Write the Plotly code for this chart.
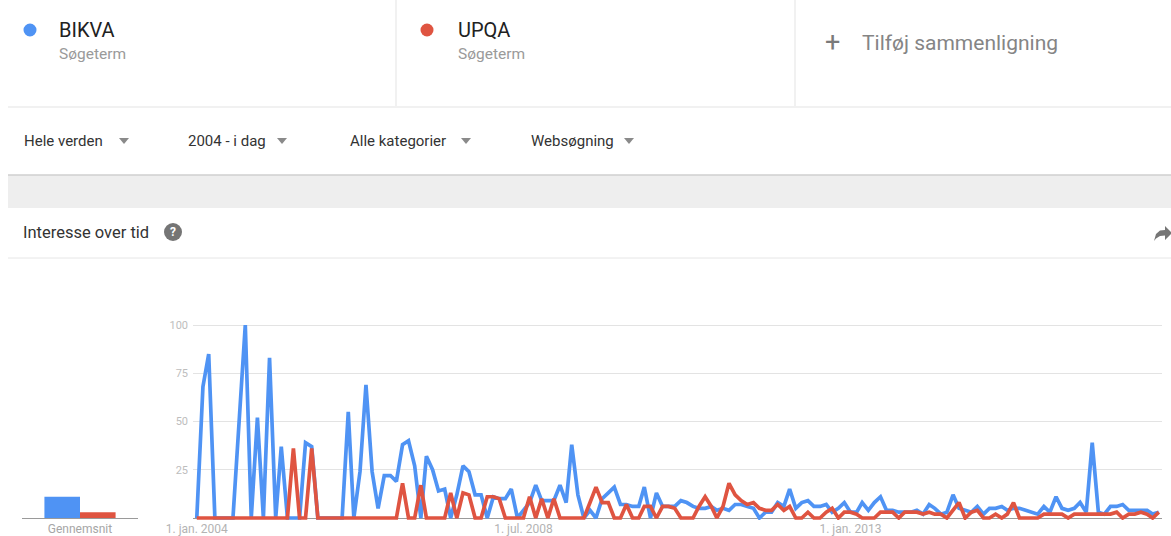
import pandas as pd
import plotly.graph_objects as go

W, H = 1171, 536

# ---------------- data ----------------
months = pd.date_range("2004-01-01", periods=160, freq="MS")

bikva = [0, 68, 85, 0, 0, 0, 0, 50, 100, 0,
         52, 0, 83, 0, 37, 0, 0, 0, 39, 37,
         0, 0, 0, 0, 0, 55, 0, 24, 69, 24,
         5, 22, 22, 19, 38, 40, 27, 0, 32, 25,
         14, 15, 0, 12, 27, 24, 12, 12, 0, 11,
         10, 10, 15, 0, 4, 8, 17, 9, 9, 9,
         17, 8, 38, 12, 0, 4, 0, 10, 13, 16,
         7, 7, 6, 6, 16, 0, 13, 6, 6, 6,
         9, 8, 6, 5, 5, 6, 4, 5, 4, 7,
         7, 6, 5, 0, 3, 3, 8, 6, 15, 5,
         8, 9, 6, 6, 7, 3, 5, 8, 3, 3,
         8, 4, 8, 11, 4, 4, 3, 3, 3, 4,
         2, 7, 5, 2, 3, 12, 5, 4, 3, 6,
         2, 5, 5, 6, 4, 5, 5, 4, 3, 2,
         6, 3, 11, 5, 4, 5, 8, 3, 39, 3,
         2, 6, 6, 7, 4, 4, 4, 4, 2, 3]

upqa = [0, 0, 0, 0, 0, 0, 0, 0, 0, 0,
        0, 0, 0, 0, 0, 0, 36, 0, 0, 36,
        0, 0, 0, 0, 0, 0, 0, 0, 0, 0,
        0, 0, 0, 0, 18, 0, 0, 17, 0, 0,
        0, 0, 13, 0, 13, 12, 0, 0, 11, 11,
        10, 0, 0, 0, 0, 11, 0, 10, 0, 10,
        0, 0, 0, 0, 0, 8, 16, 8, 8, 0,
        0, 7, 0, 0, 6, 6, 0, 6, 6, 5,
        0, 0, 0, 6, 11, 6, 0, 6, 18, 12,
        9, 7, 8, 5, 4, 4, 7, 4, 6, 0,
        0, 3, 0, 0, 3, 5, 0, 3, 3, 2,
        0, 0, 0, 3, 3, 3, 0, 3, 3, 3,
        2, 3, 2, 2, 0, 4, 8, 0, 3, 4,
        0, 0, 2, 0, 2, 8, 0, 0, 0, 0,
        2, 2, 2, 2, 0, 2, 2, 2, 2, 2,
        2, 2, 3, 0, 2, 2, 3, 2, 0, 3]

terms = ["BIKVA", "UPQA"]
averages = [11, 3]
avg_label = ["Gennemsnit"]
y_ticks = [25, 50, 75, 100]
x_tick_dates = ["2004-01-01", "2008-07-01", "2013-01-01"]
x_tick_text = ["1. jan. 2004", "1. jul. 2008", "1. jan. 2013"]
filters = ["Hele verden", "2004 - i dag", "Alle kategorier", "Websøgning"]

BLUE = "#4f93f4"
RED = "#df5441"
FONT = "Roboto"


def px(x):
    return x / W


def py(y):
    return 1 - y / H


fig = go.Figure()

fig.add_trace(go.Scatter(x=months, y=bikva, mode="lines", name=terms[0],
                         line=dict(color=BLUE, width=3.7), xaxis="x", yaxis="y"))
fig.add_trace(go.Scatter(x=months, y=upqa, mode="lines", name=terms[1],
                         line=dict(color=RED, width=3.7), xaxis="x", yaxis="y"))

fig.add_trace(go.Bar(x=[0], y=[averages[0]], width=[1], marker_color=BLUE,
                     marker_line_width=0, xaxis="x2", yaxis="y2", name=terms[0]))
fig.add_trace(go.Bar(x=[1], y=[averages[1]], width=[1], marker_color=RED,
                     marker_line_width=0, xaxis="x2", yaxis="y2", name=terms[1]))

ydom = [py(519.93), py(323.07)]

fig.update_layout(
    template="none",
    width=W, height=H,
    autosize=False,
    margin=dict(l=0, r=0, t=0, b=0, pad=0, autoexpand=False),
    paper_bgcolor="white", plot_bgcolor="white",
    showlegend=False,
    font=dict(family=FONT),
    barmode="overlay",
    xaxis=dict(domain=[px(193), px(1162)], type="date", automargin=False,
               range=["2003-12-13", "2017-04-17"],
               tickvals=x_tick_dates, ticktext=x_tick_text,
               showgrid=False, zeroline=False, showline=False, ticks="",
               tickfont=dict(family=FONT, size=12, color="#b3b3b3")),
    yaxis=dict(domain=ydom, range=[-1, 101], tickvals=y_ticks, automargin=False,
               showgrid=True, gridcolor="#e3e3e3", gridwidth=1,
               zeroline=True, zerolinecolor="#9a9a9a", zerolinewidth=1,
               showline=False, ticks="", ticklabelstandoff=4,
               tickfont=dict(family=FONT, size=11, color="#bdbdbd")),
    xaxis2=dict(domain=[px(22), px(138)], range=[-1.13, 2.13], automargin=False,
                tickvals=[0.5], ticktext=avg_label,
                showgrid=False, zeroline=False, showline=False, ticks="",
                tickfont=dict(family=FONT, size=12, color="#a6a6a6")),
    yaxis2=dict(domain=ydom, range=[-1, 101], anchor="x2", automargin=False,
                showgrid=False, zeroline=True, zerolinecolor="#9a9a9a",
                zerolinewidth=1, showticklabels=False, ticks=""),
)

shapes = []
annotations = []

# header separators
for xv in (396, 795):
    shapes.append(dict(type="line", xref="paper", yref="paper",
                       x0=px(xv), x1=px(xv), y0=py(0), y1=py(106),
                       line=dict(color="#e3e3e3", width=1)))
shapes.append(dict(type="line", xref="paper", yref="paper",
                   x0=px(8), x1=1, y0=py(107), y1=py(107),
                   line=dict(color="#e3e3e3", width=1)))

# legend dots
for cx, col in ((30, BLUE), (427, RED)):
    shapes.append(dict(type="circle", xref="paper", yref="paper",
                       x0=px(cx - 6.5), x1=px(cx + 6.5), y0=py(30 + 6.5), y1=py(30 - 6.5),
                       fillcolor=col, line=dict(width=0)))

for tx, term in ((57, terms[0]), (456, terms[1])):
    annotations.append(dict(text=term, x=px(tx), y=py(30), xref="paper", yref="paper",
                            xanchor="left", yanchor="middle", showarrow=False,
                            font=dict(family=FONT, size=20, color="#212121")))
    annotations.append(dict(text="Søgeterm", x=px(tx), y=py(54), xref="paper", yref="paper",
                            xanchor="left", yanchor="middle", showarrow=False,
                            font=dict(family=FONT, size=15.5, color="#9a9a9a")))

annotations.append(dict(text="+", x=px(832), y=py(42), xref="paper", yref="paper",
                        xanchor="center", yanchor="middle", showarrow=False,
                        font=dict(family=FONT, size=27, color="#7a7a7a")))
annotations.append(dict(text="Tilføj sammenligning", x=px(860), y=py(43), xref="paper",
                        yref="paper", xanchor="left", yanchor="middle", showarrow=False,
                        font=dict(family=FONT, size=21, color="#858585")))

# filter row
filter_x = [22, 186, 348, 529]
tri_x = [124, 282, 466, 629]
for fx, tx, label in zip(filter_x, tri_x, filters):
    annotations.append(dict(text=label, x=px(fx), y=py(141), xref="paper", yref="paper",
                            xanchor="left", yanchor="middle", showarrow=False,
                            font=dict(family=FONT, size=15, color="#333333")))
    shapes.append(dict(type="path", xref="paper", yref="paper",
                       path=f"M {px(tx-5)} {py(138)} L {px(tx+5)} {py(138)} L {px(tx)} {py(144)} Z",
                       fillcolor="#8a8a8a", line=dict(width=0)))

# gray band
shapes.append(dict(type="rect", xref="paper", yref="paper",
                   x0=px(8), x1=1, y0=py(208), y1=py(175),
                   fillcolor="#eeeeee", line=dict(width=0), layer="below"))
shapes.append(dict(type="line", xref="paper", yref="paper",
                   x0=px(8), x1=1, y0=py(175), y1=py(175),
                   line=dict(color="#cfcfcf", width=1.5)))

# "Interesse over tid" row
annotations.append(dict(text="Interesse over tid", x=px(21), y=py(233), xref="paper",
                        yref="paper", xanchor="left", yanchor="middle", showarrow=False,
                        font=dict(family=FONT, size=16.5, color="#333333")))
shapes.append(dict(type="circle", xref="paper", yref="paper",
                   x0=px(164), x1=px(182), y0=py(241), y1=py(223),
                   fillcolor="#757575", line=dict(width=0)))
annotations.append(dict(text="<b>?</b>", x=px(173), y=py(232.5), xref="paper", yref="paper",
                        xanchor="center", yanchor="middle", showarrow=False,
                        font=dict(family=FONT, size=12, color="white")))
shapes.append(dict(type="line", xref="paper", yref="paper",
                   x0=px(8), x1=1, y0=py(258), y1=py(258),
                   line=dict(color="#e6e6e6", width=1)))

# share arrow (partially cut at right edge)
arrow = [(1154, 241), (1156, 234), (1160, 230.5), (1165, 230), (1165, 226),
         (1172, 233), (1165, 240), (1165, 235.5), (1160, 236), (1156, 238.5)]
path = "M " + " L ".join(f"{px(a)} {py(b)}" for a, b in arrow) + " Z"
shapes.append(dict(type="path", xref="paper", yref="paper", path=path,
                   fillcolor="#757575", line=dict(width=0)))

fig.update_layout(shapes=shapes, annotations=annotations)

fig.write_html(
    "out.html",
    config={"displayModeBar": False},
    post_script="document.body.style.margin='0';document.body.style.overflow='hidden';",
)
